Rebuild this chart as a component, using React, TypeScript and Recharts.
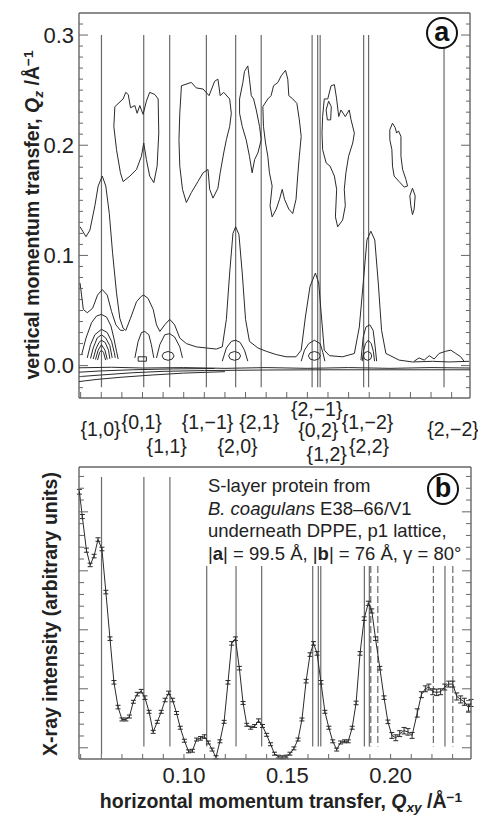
import React from 'react';
import { ScatterChart, Scatter, XAxis, YAxis, ReferenceLine, ErrorBar } from 'recharts';

type Pt = [number, number];

const FONT = '"Liberation Sans", Arial, Helvetica, sans-serif';
const FRAME = '#666';
const INK = '#2a2a2a';
const REFL = '#6a6a6a';

// horizontal momentum transfer Qxy (1/Å), shared by both panels
const qDomain: [number, number] = [0.0492, 0.2389];
const qMinorTicks = [0.05, 0.06, 0.07, 0.08, 0.09, 0.1, 0.11, 0.12, 0.13, 0.14, 0.15, 0.16, 0.17, 0.18, 0.19, 0.2, 0.21, 0.22, 0.23];
const qLabelTicks = [0.1, 0.15, 0.2];

// panel a: vertical momentum transfer Qz (1/Å)
const qzDomain: [number, number] = [-0.0294, 0.32];
const qzMajorTicks = [0, 0.1, 0.2, 0.3];
const qzAllTicks = [-0.02, -0.01, 0, 0.01, 0.02, 0.03, 0.04, 0.05, 0.06, 0.07, 0.08, 0.09, 0.1, 0.11, 0.12, 0.13, 0.14, 0.15, 0.16, 0.17, 0.18, 0.19, 0.2, 0.21, 0.22, 0.23, 0.24, 0.25, 0.26, 0.27, 0.28, 0.29, 0.3, 0.31];

// panel b: intensity (arbitrary units)
const intDomain: [number, number] = [-0.19, 4.76];
const intMajorTicks = [0, 1, 2, 3, 4];
const intAllTicks = [0, 0.2, 0.4, 0.6, 0.8, 1, 1.2, 1.4, 1.6, 1.8, 2, 2.2, 2.4, 2.6, 2.8, 3, 3.2, 3.4, 3.6, 3.8, 4, 4.2, 4.4, 4.6];

// Bragg rod positions
const reflectionNames = ['{1,0}', '{0,1}', '{1,1}', '{1,−1}', '{2,0}', '{2,1}', '{2,−1}', '{0,2}', '{1,2}', '{1,−2}', '{2,2}', '{2,−2}'];
const reflectionQ = [0.0601, 0.0806, 0.0932, 0.111, 0.1252, 0.1376, 0.1623, 0.165, 0.1662, 0.1873, 0.1897, 0.2263];
const dashedQ = [0.1904, 0.1938, 0.2207, 0.2301];
const lineTopB = [4.59, 4.59, 4.59, 3.08, 3.08, 3.08, 3.08, 3.08, 3.08, 3.08, 3.08, 3.08];
const lineBottomB = [-0.11, 0.02, 0.02, 0.02, 0.02, 0.02, 0.02, 0.02, 0.02, 0.02, 0.02, 0.02];

// panel b scan
const scanQ = [0.0494, 0.0508, 0.0528, 0.0546, 0.0565, 0.0584, 0.0603, 0.0622, 0.0642, 0.0661, 0.0681, 0.07, 0.0719, 0.0736, 0.0755, 0.0774, 0.0793, 0.0811, 0.0831, 0.0851, 0.0871, 0.089, 0.0909, 0.0926, 0.0945, 0.0964, 0.0982, 0.1002, 0.1022, 0.1041, 0.1061, 0.108, 0.1099, 0.1118, 0.1136, 0.1155, 0.1174, 0.1194, 0.1213, 0.1231, 0.1249, 0.1268, 0.1286, 0.1304, 0.1323, 0.1342, 0.1361, 0.138, 0.14, 0.1419, 0.1438, 0.1456, 0.1475, 0.1494, 0.1513, 0.1532, 0.1552, 0.1571, 0.1591, 0.161, 0.1627, 0.1644, 0.1663, 0.1682, 0.1701, 0.172, 0.1739, 0.1758, 0.1777, 0.1795, 0.1814, 0.1833, 0.1852, 0.1872, 0.1892, 0.1909, 0.1927, 0.1948, 0.1968, 0.1987, 0.2006, 0.2025, 0.2044, 0.2065, 0.2084, 0.2104, 0.2129, 0.2149, 0.2168, 0.2185, 0.2204, 0.2223, 0.2242, 0.2262, 0.2281, 0.2301, 0.232, 0.2339, 0.2357, 0.2377, 0.2389];
const scanIntensity = [4.34, 3.92, 3.35, 3.1, 3.25, 3.53, 3.37, 2.64, 1.85, 1.11, 0.69, 0.48, 0.48, 0.53, 0.78, 0.91, 0.96, 0.85, 0.61, 0.27, 0.44, 0.61, 0.81, 0.93, 0.81, 0.59, 0.34, 0.12, -0.06, -0.05, 0.14, 0.16, 0.19, 0.09, -0.03, -0.16, 0.11, 0.44, 1.11, 1.77, 1.85, 1.35, 0.76, 0.39, 0.34, 0.37, 0.46, 0.37, 0.22, 0.06, -0.1, -0.15, -0.16, -0.15, -0.1, -0.01, 0.14, 0.48, 1.13, 1.58, 1.77, 1.6, 1.11, 0.61, 0.34, 0.11, -0.03, 0.09, 0.11, 0.11, 0.34, 0.76, 1.6, 2.19, 2.45, 2.32, 1.85, 1.35, 0.85, 0.44, 0.21, 0.17, 0.24, 0.29, 0.27, 0.21, 0.59, 0.9, 1.0, 1.03, 0.95, 0.94, 0.95, 1.03, 1.08, 1.08, 0.87, 0.82, 0.78, 0.68, 0.76];
const scanError = [0.04, 0.035, 0.035, 0.03, 0.03, 0.03, 0.03, 0.03, 0.03, 0.03, 0.03, 0.025, 0.025, 0.025, 0.025, 0.03, 0.03, 0.03, 0.025, 0.025, 0.025, 0.025, 0.03, 0.03, 0.03, 0.025, 0.025, 0.025, 0.025, 0.025, 0.025, 0.03, 0.03, 0.025, 0.025, 0.025, 0.025, 0.025, 0.03, 0.03, 0.03, 0.03, 0.025, 0.025, 0.025, 0.025, 0.03, 0.025, 0.025, 0.025, 0.025, 0.025, 0.025, 0.025, 0.025, 0.025, 0.025, 0.025, 0.03, 0.03, 0.03, 0.03, 0.03, 0.025, 0.025, 0.025, 0.025, 0.025, 0.025, 0.025, 0.025, 0.03, 0.03, 0.03, 0.035, 0.035, 0.03, 0.03, 0.03, 0.03, 0.05, 0.05, 0.05, 0.055, 0.055, 0.05, 0.07, 0.05, 0.05, 0.05, 0.05, 0.055, 0.05, 0.05, 0.05, 0.05, 0.06, 0.06, 0.06, 0.06, 0.06];

// panel a contours, [Qxy, Qz]
const contourLow: Pt[] = [[0.0497, 0.126], [0.0526, 0.117], [0.0545, 0.123], [0.0569, 0.145], [0.0585, 0.163], [0.0605, 0.172], [0.0622, 0.163], [0.0639, 0.138], [0.0655, 0.102], [0.0674, 0.066], [0.069, 0.043], [0.0706, 0.034], [0.0719, 0.032], [0.0742, 0.043], [0.0771, 0.058], [0.0795, 0.063], [0.0806, 0.064], [0.0827, 0.061], [0.0852, 0.051], [0.0868, 0.037], [0.0884, 0.031], [0.0908, 0.037], [0.0932, 0.042], [0.0956, 0.037], [0.0981, 0.025], [0.1013, 0.02], [0.1061, 0.017], [0.111, 0.016], [0.1158, 0.015], [0.1187, 0.017], [0.1207, 0.042], [0.1223, 0.084], [0.1239, 0.12], [0.1252, 0.126], [0.1268, 0.119], [0.1284, 0.084], [0.13, 0.042], [0.1319, 0.022], [0.136, 0.016], [0.14, 0.013], [0.1449, 0.01], [0.1497, 0.008], [0.1545, 0.008], [0.157, 0.014], [0.1591, 0.045], [0.1613, 0.072], [0.1639, 0.084], [0.1655, 0.075], [0.1668, 0.045], [0.1682, 0.014], [0.1707, 0.009], [0.1771, 0.008], [0.1828, 0.011], [0.1852, 0.035], [0.1871, 0.075], [0.1889, 0.114], [0.1908, 0.122], [0.1927, 0.114], [0.1944, 0.075], [0.196, 0.032], [0.1981, 0.011], [0.2045, 0.005], [0.211, 0.0033], [0.2207, 0.0039], [0.2288, 0.0033], [0.2384, 0.0039]];
const contourHump: Pt[] = [[0.0497, 0.075], [0.0513, 0.051], [0.0532, 0.048], [0.0558, 0.052], [0.0582, 0.064], [0.0605, 0.069], [0.0629, 0.064], [0.065, 0.049], [0.0671, 0.037], [0.0693, 0.032], [0.071, 0.032]];
const arch10A: Pt[] = [[0.0505, 0.01], [0.0526, 0.025], [0.0553, 0.039], [0.0577, 0.045], [0.0601, 0.0465], [0.0626, 0.044], [0.0647, 0.036], [0.0661, 0.025], [0.0674, 0.013], [0.0682, 0.006]];
const arch10B: Pt[] = [[0.0532, 0.007], [0.0548, 0.019], [0.0569, 0.028], [0.0601, 0.033], [0.0629, 0.03], [0.065, 0.022], [0.0663, 0.012], [0.0668, 0.007]];
const arch10C: Pt[] = [[0.0548, 0.0065], [0.0561, 0.016], [0.058, 0.025], [0.0601, 0.028], [0.0622, 0.025], [0.0642, 0.018], [0.0653, 0.007]];
const arch10D: Pt[] = [[0.0561, 0.006], [0.0574, 0.015], [0.0589, 0.021], [0.0601, 0.023], [0.0619, 0.021], [0.0635, 0.014], [0.0642, 0.006]];
const arch10E: Pt[] = [[0.0572, 0.0055], [0.0585, 0.014], [0.0601, 0.019], [0.0618, 0.014], [0.0629, 0.0055]];
const arch10F: Pt[] = [[0.0582, 0.005], [0.0592, 0.012], [0.0601, 0.014], [0.0611, 0.012], [0.0621, 0.005]];
const arch01: Pt[] = [[0.0763, 0.007], [0.0779, 0.022], [0.0795, 0.03], [0.0811, 0.031], [0.0831, 0.028], [0.0843, 0.019], [0.0855, 0.007]];
const loop01: Pt[] = [[0.0779, 0.004], [0.0779, 0.008], [0.0819, 0.008], [0.0819, 0.004], [0.0779, 0.004]];
const arch11: Pt[] = [[0.0868, 0.007], [0.0884, 0.019], [0.0908, 0.028], [0.0932, 0.029], [0.0956, 0.026], [0.0981, 0.017], [0.0994, 0.007]];
const ring11: Pt[] = [[0.0895, 0.0088], [0.0903, 0.0116], [0.0924, 0.0128], [0.0945, 0.0116], [0.0953, 0.0088], [0.0945, 0.006], [0.0924, 0.0048], [0.0903, 0.006], [0.0895, 0.0088]];
const arch20: Pt[] = [[0.1187, 0.004], [0.1207, 0.016], [0.1231, 0.022], [0.1252, 0.023], [0.1274, 0.021], [0.1295, 0.014], [0.1311, 0.004]];
const ring20: Pt[] = [[0.1218, 0.0088], [0.1226, 0.0116], [0.1247, 0.0128], [0.1268, 0.0116], [0.1276, 0.0088], [0.1268, 0.006], [0.1247, 0.0048], [0.1226, 0.006], [0.1218, 0.0088]];
const arch2m1: Pt[] = [[0.157, 0.004], [0.1586, 0.014], [0.1607, 0.02], [0.1634, 0.023], [0.1662, 0.02], [0.1675, 0.012], [0.1685, 0.004]];
const ring2m1: Pt[] = [[0.1605, 0.0088], [0.1613, 0.0116], [0.1634, 0.0128], [0.1655, 0.0116], [0.1663, 0.0088], [0.1655, 0.006], [0.1634, 0.0048], [0.1613, 0.006], [0.1605, 0.0088]];
const arch1m2Outer: Pt[] = [[0.186, 0.005], [0.1871, 0.026], [0.1884, 0.035], [0.1903, 0.037], [0.1919, 0.032], [0.1929, 0.017], [0.1936, 0.004]];
const arch1m2: Pt[] = [[0.1866, 0.004], [0.1873, 0.014], [0.1882, 0.02], [0.1895, 0.023], [0.191, 0.02], [0.192, 0.013], [0.1926, 0.004]];
const ring1m2: Pt[] = [[0.1872, 0.0088], [0.1877, 0.0116], [0.1892, 0.0128], [0.1907, 0.0116], [0.1912, 0.0088], [0.1907, 0.006], [0.1892, 0.0048], [0.1877, 0.006], [0.1872, 0.0088]];
const rippleRight: Pt[] = [[0.2118, 0.004], [0.2142, 0.007], [0.2167, 0.005], [0.2191, 0.009], [0.2215, 0.006], [0.2239, 0.011], [0.2271, 0.013], [0.2296, 0.014], [0.232, 0.011], [0.2344, 0.008], [0.236, 0.004]];
const floor1: Pt[] = [[0.0492, -0.002], [0.065, -0.0015], [0.08, -0.0022], [0.1, -0.0018], [0.12, -0.0025], [0.14, -0.0018], [0.16, -0.0025], [0.18, -0.0018], [0.2, -0.0025], [0.22, -0.0018], [0.2389, -0.0022]];
const floor2: Pt[] = [[0.0492, -0.006], [0.06, -0.0048], [0.075, -0.0038], [0.095, -0.003], [0.115, -0.0026]];
const floor3: Pt[] = [[0.0492, -0.01], [0.06, -0.0085], [0.075, -0.0065], [0.09, -0.0052], [0.11, -0.0045], [0.14, -0.004], [0.17, -0.0038], [0.2389, -0.0038]];
const floor4: Pt[] = [[0.0492, -0.0145], [0.058, -0.0125], [0.07, -0.0105], [0.085, -0.0085], [0.1, -0.0068], [0.12, -0.0055]];
const blob1: Pt[] = [[0.0666, 0.235], [0.0706, 0.242], [0.0719, 0.248], [0.0731, 0.246], [0.0742, 0.234], [0.0763, 0.236], [0.0774, 0.229], [0.0787, 0.236], [0.0803, 0.228], [0.0819, 0.24], [0.0835, 0.248], [0.086, 0.246], [0.0876, 0.242], [0.0879, 0.211], [0.0871, 0.181], [0.0855, 0.166], [0.0835, 0.172], [0.0819, 0.187], [0.0806, 0.202], [0.0795, 0.19], [0.0771, 0.178], [0.0739, 0.172], [0.0706, 0.167], [0.0693, 0.175], [0.0674, 0.196], [0.0661, 0.217], [0.0666, 0.235]];
const blob2: Pt[] = [[0.0989, 0.254], [0.1037, 0.257], [0.1061, 0.252], [0.1094, 0.251], [0.1123, 0.245], [0.115, 0.258], [0.1166, 0.26], [0.1177, 0.245], [0.1194, 0.248], [0.1223, 0.242], [0.1231, 0.229], [0.1223, 0.217], [0.1207, 0.205], [0.1194, 0.193], [0.1177, 0.175], [0.1166, 0.161], [0.1142, 0.152], [0.1126, 0.16], [0.1118, 0.178], [0.1094, 0.175], [0.1069, 0.167], [0.1037, 0.157], [0.1013, 0.148], [0.0994, 0.16], [0.0981, 0.181], [0.0977, 0.205], [0.0981, 0.229], [0.0989, 0.254]];
const blob3: Pt[] = [[0.1271, 0.242], [0.1287, 0.257], [0.1295, 0.267], [0.1311, 0.272], [0.1319, 0.26], [0.1328, 0.245], [0.1339, 0.242], [0.1352, 0.232], [0.1368, 0.217], [0.1376, 0.205], [0.136, 0.193], [0.1344, 0.187], [0.1332, 0.175], [0.1319, 0.19], [0.1303, 0.205], [0.1284, 0.217], [0.1271, 0.229], [0.1271, 0.242]];
const blob4: Pt[] = [[0.1384, 0.235], [0.1408, 0.242], [0.1424, 0.245], [0.1436, 0.254], [0.1457, 0.257], [0.1473, 0.263], [0.1494, 0.268], [0.1505, 0.26], [0.151, 0.245], [0.1529, 0.242], [0.1549, 0.238], [0.1561, 0.223], [0.157, 0.208], [0.1561, 0.19], [0.1553, 0.172], [0.1545, 0.151], [0.1529, 0.138], [0.151, 0.142], [0.1489, 0.151], [0.1478, 0.16], [0.1465, 0.151], [0.1449, 0.142], [0.1429, 0.135], [0.1419, 0.145], [0.1429, 0.163], [0.1416, 0.175], [0.1408, 0.19], [0.1397, 0.202], [0.1387, 0.217], [0.1384, 0.235]];
const blob5: Pt[] = [[0.1682, 0.242], [0.1699, 0.242], [0.1715, 0.254], [0.1731, 0.255], [0.1742, 0.242], [0.1752, 0.226], [0.1763, 0.232], [0.1784, 0.226], [0.1803, 0.232], [0.1812, 0.223], [0.1828, 0.211], [0.182, 0.202], [0.18, 0.19], [0.1787, 0.175], [0.1779, 0.16], [0.1784, 0.145], [0.1771, 0.132], [0.1747, 0.126], [0.1736, 0.135], [0.1742, 0.16], [0.1731, 0.172], [0.171, 0.181], [0.1691, 0.184], [0.1674, 0.196], [0.1671, 0.211], [0.1674, 0.226], [0.1682, 0.242]];
const blob5Inner: Pt[] = [[0.1691, 0.232], [0.1703, 0.24], [0.1716, 0.235], [0.1713, 0.223], [0.1697, 0.223], [0.1691, 0.232]];
const blob6: Pt[] = [[0.2, 0.214], [0.2013, 0.22], [0.2026, 0.216], [0.2033, 0.211], [0.2042, 0.213], [0.2054, 0.208], [0.2054, 0.19], [0.2062, 0.178], [0.2078, 0.169], [0.2086, 0.163], [0.207, 0.162], [0.2045, 0.167], [0.2021, 0.172], [0.2013, 0.181], [0.201, 0.196], [0.2, 0.205], [0.2, 0.214]];
const blob7: Pt[] = [[0.2097, 0.154], [0.211, 0.161], [0.2123, 0.154], [0.2118, 0.142], [0.211, 0.137], [0.2102, 0.145], [0.2097, 0.154]];

const contours: Pt[][] = [contourLow, contourHump, arch10A, arch10B, arch10C, arch10D, arch10E, arch10F, arch01, loop01, arch11, ring11, arch20, ring20, arch2m1, ring2m1, arch1m2Outer, arch1m2, ring1m2, rippleRight, floor1, floor2, floor3, floor4, blob1, blob2, blob3, blob4, blob5, blob5Inner, blob6, blob7];

// where the reflection labels sit between the panels
const labelLayout = [
  { x: 100.5, y: 430 }, { x: 141.7, y: 422.5 }, { x: 166.7, y: 446.7 }, { x: 207.5, y: 422.5 },
  { x: 237.5, y: 446.7 }, { x: 259.3, y: 422.5 }, { x: 316.7, y: 410 }, { x: 318.3, y: 431 },
  { x: 326.7, y: 455 }, { x: 367.5, y: 422.5 }, { x: 369, y: 446.7 }, { x: 453, y: 430 },
];

const near = (v: number, list: number[]) => list.some((m) => Math.abs(m - v) < 1e-6);

const makeTick = (side: string, majors: number[], minorLen: number, majorLen: number, labels?: number[], digits = 1) =>
  (props: any) => {
    const { x, y, payload } = props;
    const v = payload.value;
    const len = near(v, majors) ? majorLen : minorLen;
    let x2 = x;
    let y2 = y;
    if (side === 'left') x2 = x + len;
    else if (side === 'right') x2 = x - len;
    else if (side === 'top') y2 = y + len;
    else y2 = y - len;
    const showLabel = labels && near(v, labels);
    return (
      <g>
        <line x1={x} y1={y} x2={x2} y2={y2} stroke={FRAME} strokeWidth={1} />
        {showLabel && side === 'left' && (
          <text x={x - 5} y={y} textAnchor="end" dominantBaseline="central" fontSize={22} fontFamily={FONT} fill="#222">
            {v.toFixed(digits)}
          </text>
        )}
        {showLabel && side === 'bottom' && (
          <text x={x} y={y + 23.5} textAnchor="middle" fontSize={22} fontFamily={FONT} fill="#222">
            {v.toFixed(digits)}
          </text>
        )}
      </g>
    );
  };

const NoDot = () => <g />;
const axisLine = { stroke: FRAME, strokeWidth: 1.4 };

const ContourPanel = () => (
  <ScatterChart width={478} height={400} margin={{ top: 13, right: 8, bottom: 2, left: 0 }}>
    <XAxis xAxisId="q" type="number" dataKey="x" orientation="bottom" mirror domain={qDomain} allowDataOverflow
      ticks={qMinorTicks} interval={0} tickSize={0} tickMargin={0} tickLine={false} axisLine={axisLine}
      tick={makeTick('bottom', [], 6, 6)} />
    <XAxis xAxisId="qTop" type="number" orientation="top" mirror domain={qDomain} allowDataOverflow
      ticks={qMinorTicks} interval={0} tickSize={0} tickMargin={0} tickLine={false} axisLine={axisLine}
      tick={makeTick('top', [], 5, 5)} />
    <YAxis yAxisId="qz" type="number" dataKey="y" orientation="left" width={79} domain={qzDomain} allowDataOverflow
      ticks={qzAllTicks} interval={0} tickSize={0} tickMargin={0} tickLine={false} axisLine={axisLine}
      tick={makeTick('left', qzMajorTicks, 4, 9, qzMajorTicks, 1)} />
    <YAxis yAxisId="qzRight" type="number" orientation="right" mirror domain={qzDomain} allowDataOverflow
      ticks={qzAllTicks} interval={0} tickSize={0} tickMargin={0} tickLine={false} axisLine={axisLine}
      tick={makeTick('right', qzMajorTicks, 4, 9)} />
    {reflectionQ.map((q, i) => (
      <ReferenceLine key={`ra-${i}`} xAxisId="q" yAxisId="qz"
        segment={[{ x: q, y: 0.3 }, { x: q, y: -0.0197 }]} stroke={REFL} strokeWidth={1.2} />
    ))}
    {contours.map((c, i) => (
      <Scatter key={`c-${i}`} xAxisId="q" yAxisId="qz" data={c.map(([x, y]) => ({ x, y }))}
        line={{ stroke: INK, strokeWidth: 1, fill: 'none' }} shape={NoDot} isAnimationActive={false} />
    ))}
  </ScatterChart>
);

const scanRows = scanQ.map((x, i) => ({ x, y: scanIntensity[i], err: scanError[i] ?? 0.03 }));

const ScanPanel = () => (
  <ScatterChart width={478} height={360} margin={{ top: 27, right: 7, bottom: 0, left: 79 }}>
    <XAxis xAxisId="q" type="number" dataKey="x" orientation="bottom" height={41} domain={qDomain} allowDataOverflow
      ticks={qMinorTicks} interval={0} tickSize={0} tickMargin={0} tickLine={false} axisLine={axisLine}
      tick={makeTick('bottom', [], 5, 5, qLabelTicks, 2)} />
    <XAxis xAxisId="qTop" type="number" orientation="top" mirror domain={qDomain} allowDataOverflow
      ticks={qMinorTicks} interval={0} tickSize={0} tickMargin={0} tickLine={false} axisLine={axisLine}
      tick={makeTick('top', [], 5, 5)} />
    <YAxis yAxisId="int" type="number" dataKey="y" orientation="left" mirror domain={intDomain} allowDataOverflow
      ticks={intAllTicks} interval={0} tickSize={0} tickMargin={0} tickLine={false} axisLine={axisLine}
      tick={makeTick('left', intMajorTicks, 5, 9)} />
    <YAxis yAxisId="intRight" type="number" orientation="right" mirror domain={intDomain} allowDataOverflow
      ticks={intAllTicks} interval={0} tickSize={0} tickMargin={0} tickLine={false} axisLine={axisLine}
      tick={makeTick('right', intMajorTicks, 5, 9)} />
    {reflectionQ.map((q, i) => (
      <ReferenceLine key={`rb-${i}`} xAxisId="q" yAxisId="int"
        segment={[{ x: q, y: lineTopB[i] }, { x: q, y: lineBottomB[i] }]} stroke={REFL} strokeWidth={1.2} />
    ))}
    {dashedQ.map((q, i) => (
      <ReferenceLine key={`rd-${i}`} xAxisId="q" yAxisId="int"
        segment={[{ x: q, y: 3.08 }, { x: q, y: 0.02 }]} stroke={REFL} strokeWidth={1.2} strokeDasharray="7 3" />
    ))}
    <Scatter xAxisId="q" yAxisId="int" data={scanRows} line={{ stroke: INK, strokeWidth: 1, fill: 'none' }}
      shape={NoDot} isAnimationActive={false}>
      <ErrorBar dataKey="err" direction="y" width={2.5} stroke={INK} strokeWidth={1} />
    </Scatter>
  </ScatterChart>
);

const subStyle: React.CSSProperties = { fontSize: '0.7em', position: 'relative', top: '0.3em', verticalAlign: 'baseline' };
const supStyle: React.CSSProperties = { fontSize: '0.7em', position: 'relative', top: '-0.45em', verticalAlign: 'baseline' };

const PanelBadge = ({ letter, x, y }: { letter: string; x: number; y: number }) => (
  <div style={{
    position: 'absolute', left: x - 16, top: y - 16, width: 28, height: 28, borderRadius: '50%',
    border: '2.5px solid #111', background: '#fff', display: 'flex', alignItems: 'center', justifyContent: 'center',
    fontFamily: FONT, fontWeight: 700, fontSize: 27, lineHeight: 1, color: '#111',
  }}>
    <span style={{ position: 'relative', top: -1 }}>{letter}</span>
  </div>
);

export default function App() {
  return (
    <div style={{ position: 'absolute', left: 0, top: 0, width: 478, height: 820, background: '#fff', overflow: 'hidden', fontFamily: FONT, color: '#222' }}>
      <div style={{ position: 'absolute', left: 0, top: 0 }}>
        <ContourPanel />
      </div>
      <div style={{ position: 'absolute', left: 0, top: 440 }}>
        <ScanPanel />
      </div>

      {reflectionNames.map((name, i) => (
        <div key={name} style={{
          position: 'absolute', left: labelLayout[i].x, top: labelLayout[i].y, transform: 'translate(-50%, -50%)',
          fontSize: 19.5, lineHeight: 1, whiteSpace: 'nowrap',
        }}>{name}</div>
      ))}

      <div style={{ position: 'absolute', left: 208, top: 475.4, fontSize: 18.5, lineHeight: '22.4px', whiteSpace: 'nowrap' }}>
        <div>S-layer protein from</div>
        <div><i>B. coagulans</i> E38–66/V1</div>
        <div>underneath DPPE, p1 lattice,</div>
        <div>|<b>a</b>| = 99.5 Å, |<b>b</b>| = 76 Å, γ = 80°</div>
      </div>

      <PanelBadge letter="a" x={441.7} y={33.3} />
      <PanelBadge letter="b" x={443} y={489} />

      <div style={{
        position: 'absolute', left: 33, top: 215, transform: 'translate(-50%, -50%) rotate(-90deg)',
        fontSize: 19.5, fontWeight: 700, lineHeight: 1, whiteSpace: 'nowrap',
      }}>
        vertical momentum transfer, <i>Q</i><i style={subStyle}>z</i> /Å<span style={supStyle}>−1</span>
      </div>
      <div style={{
        position: 'absolute', left: 51, top: 614, transform: 'translate(-50%, -50%) rotate(-90deg)',
        fontSize: 19.5, fontWeight: 700, lineHeight: 1, whiteSpace: 'nowrap',
      }}>
        X-ray intensity (arbitrary units)
      </div>
      <div style={{
        position: 'absolute', left: 281, top: 802, transform: 'translate(-50%, -50%)',
        fontSize: 19.5, fontWeight: 700, lineHeight: 1, whiteSpace: 'nowrap',
      }}>
        horizontal momentum transfer, <i>Q</i><i style={subStyle}>xy</i> /Å<span style={supStyle}>−1</span>
      </div>
    </div>
  );
}
